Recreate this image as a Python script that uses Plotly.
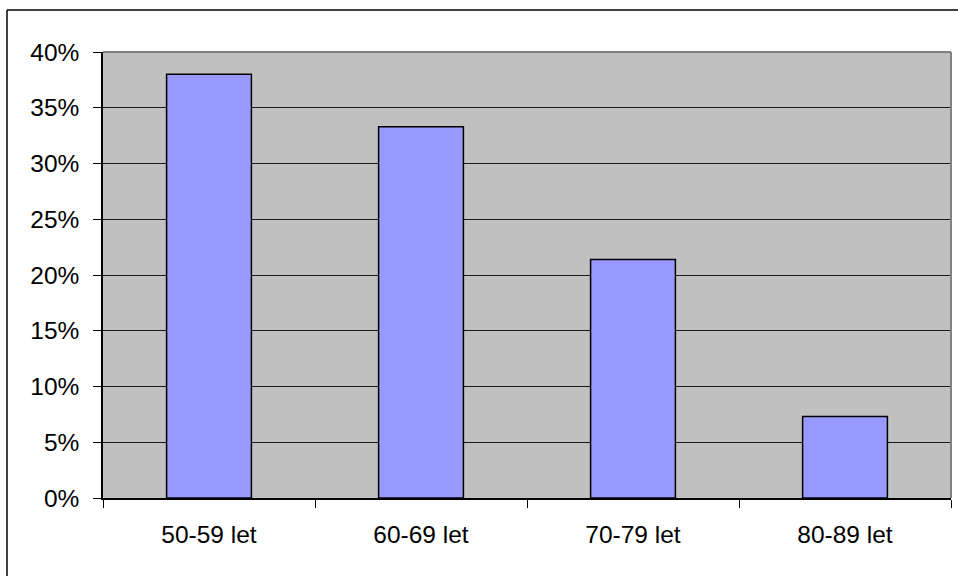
import plotly.graph_objects as go

# Age groups and their share of the total (percent)
age_groups = ["50-59 let", "60-69 let", "70-79 let", "80-89 let"]
shares = [38.0, 33.3, 21.4, 7.3]
y_ticks = [0, 5, 10, 15, 20, 25, 30, 35, 40]
y_tick_labels = [f"{v}%" for v in y_ticks]

W, H = 958, 576
ML, MR, MT, MB = 103, 7, 52, 78
PW, PH = W - ML - MR, H - MT - MB

fig = go.Figure(
    go.Bar(
        x=age_groups,
        y=shares,
        marker=dict(color="#9999FF", line=dict(color="#000000", width=1.5)),
        width=0.4,
        hoverinfo="x+y",
    )
)

font = dict(family="Liberation Sans, Arial, sans-serif", size=24.5, color="#000000")

fig.update_layout(
    width=W,
    height=H,
    margin=dict(l=ML, r=MR, t=MT, b=MB),
    paper_bgcolor="#FFFFFF",
    plot_bgcolor="#C0C0C0",
    showlegend=False,
    font=font,
    xaxis=dict(
        type="category",
        tickson="boundaries",
        ticks="outside",
        ticklen=8,
        tickcolor="#000000",
        tickwidth=1,
        showgrid=False,
        showline=True,
        linecolor="#000000",
        linewidth=1.5,
        ticklabelstandoff=14,
        tickfont=font,
    ),
    yaxis=dict(
        range=[0, 40],
        tickvals=y_ticks,
        ticktext=y_tick_labels,
        ticks="outside",
        ticklen=8,
        tickcolor="#000000",
        tickwidth=1,
        showgrid=True,
        gridcolor="#1a1a1a",
        gridwidth=1,
        showline=True,
        linecolor="#000000",
        linewidth=1.5,
        zeroline=False,
        ticklabelstandoff=9,
        tickfont=font,
    ),
    shapes=[
        # gray frame on the top and right of the plot area
        dict(type="line", xref="paper", yref="paper", x0=0, x1=1, y0=1, y1=1,
             line=dict(color="#808080", width=2), layer="above"),
        dict(type="line", xref="paper", yref="paper", x0=1, x1=1, y0=0, y1=1,
             line=dict(color="#808080", width=2), layer="above"),
        # chart area border (left and top edges visible)
        dict(type="line", xref="paper", yref="paper",
             x0=(7 - ML) / PW, x1=(7 - ML) / PW,
             y0=(H - MB - 590) / PH, y1=(H - MB - 10) / PH,
             line=dict(color="#000000", width=1.5)),
        dict(type="line", xref="paper", yref="paper",
             x0=(7 - ML) / PW, x1=(970 - ML) / PW,
             y0=(H - MB - 10) / PH, y1=(H - MB - 10) / PH,
             line=dict(color="#000000", width=1.5)),
    ],
)

fig.write_html("out.html")
